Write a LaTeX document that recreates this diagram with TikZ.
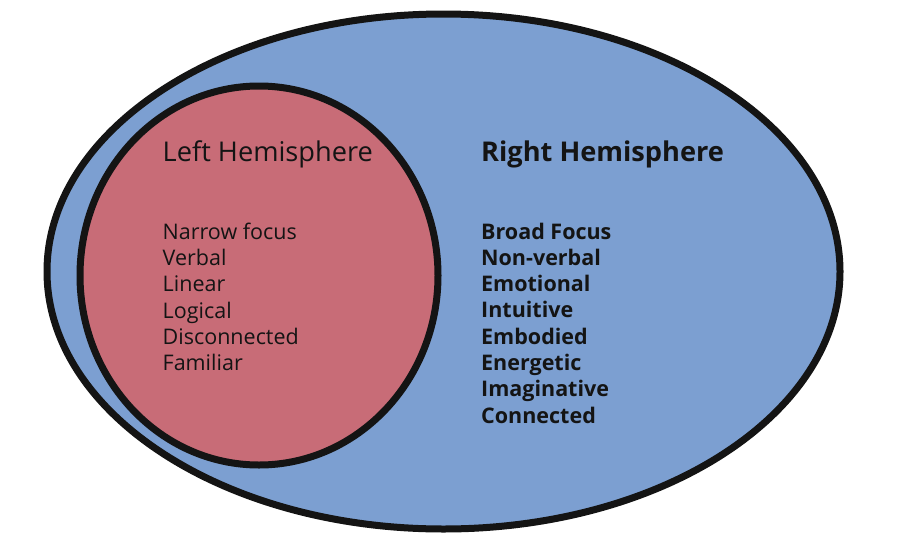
\documentclass[tikz,border=0pt]{standalone}
\usepackage{fontspec}
\setmainfont{Open Sans}
\usetikzlibrary{shapes.geometric,positioning}
\definecolor{rightblue}{RGB}{124,159,209}
\definecolor{leftred}{RGB}{200,108,119}
\definecolor{inkblack}{RGB}{20,20,20}

\begin{document}
\begin{tikzpicture}[
    x=1pt, y=-1pt,
    hemi/.style={ellipse, draw=inkblack, line width=7pt, inner sep=0pt},
    title/.style={anchor=base west, inner sep=0pt, text=inkblack, font=\fontsize{27.2}{30}\selectfont},
    list/.style={anchor=north west, inner sep=0pt, align=left, text=inkblack, font=\fontsize{21.5}{26.3}\selectfont}
]
\useasboundingbox (0,0) rectangle (910,544);

\node (brain) [hemi, fill=rightblue, minimum width=793pt, minimum height=515pt] at (443.5,271.5) {};
\node (left) [hemi, fill=leftred, minimum width=358pt, minimum height=379pt] at (259,275.5) {};

% Titles
\node (lefttitle) [title] at (162.5,161) {Left Hemisphere};
\node (righttitle) [title, font=\fontsize{27.2}{30}\selectfont\bfseries] at (481,161) {Right Hemisphere};

% Lists
\node (leftlist) [list] at (162.5,222.5) {Narrow focus\\Verbal\\Linear\\Logical\\Disconnected\\Familiar};
\node (rightlist) [list, font=\fontsize{21.5}{26.3}\selectfont\bfseries] at (481,222.5) {Broad Focus\\Non-verbal\\Emotional\\Intuitive\\Embodied\\Energetic\\Imaginative\\Connected};

\end{tikzpicture}
\end{document}
